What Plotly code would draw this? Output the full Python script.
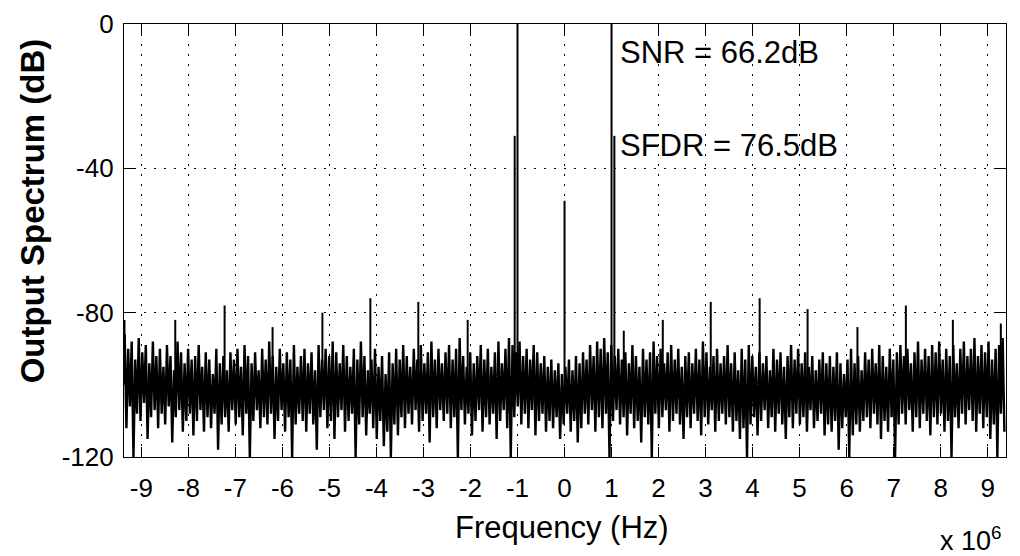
import numpy as np
import plotly.graph_objects as go

# ---------------- data (frequencies in MHz, levels in dB) ----------------
f_start = -9.3375      # centre of first noise bin
f_step = 0.075         # bin spacing

noise_hi = [
    -86, -90, -88, -93, -87, -91, -89, -94, -88, -92,
    -90, -95, -89, -92, -96, -88, -91, -94, -90, -93,
    -92, -89, -95, -91, -93, -97, -90, -94, -92, -96,
    -91, -93, -90, -95, -89, -92, -94, -91, -96, -90,
    -93, -88, -92, -95, -90, -94, -91, -93, -89, -95,
    -92, -90, -94, -91, -96, -89, -93, -90, -92, -88,
    -91, -94, -89, -92, -95, -90, -93, -88, -92, -96,
    -93, -90, -95, -92, -97, -91, -94, -90, -93, -89,
    -92, -95, -90, -93, -89, -94, -91, -88, -93, -90,
    -94, -91, -89, -93, -90, -87, -92, -95, -91, -94,
    -92, -89, -93, -90, -95, -91, -88, -94, -90, -87,
    -89, -91, -88, -92, -90, -93, -89, -91, -94, -92,
    -95, -93, -96, -94, -97, -95, -93, -96, -92, -94,
    -91, -93, -89, -92, -88, -90, -87, -91, -89, -92,
    -90, -93, -91, -94, -89, -92, -95, -90, -93, -91,
    -88, -92, -90, -94, -91, -89, -93, -90, -95, -92,
    -91, -94, -90, -93, -88, -91, -95, -92, -90, -94,
    -92, -89, -94, -91, -96, -90, -93, -89, -92, -95,
    -91, -94, -92, -96, -90, -93, -91, -95, -92, -89,
    -93, -90, -94, -91, -95, -92, -96, -93, -91, -94,
    -92, -95, -91, -94, -97, -93, -90, -94, -92, -96,
    -91, -93, -90, -94, -89, -92, -95, -90, -93, -91,
    -89, -92, -90, -94, -91, -88, -93, -90, -92, -89,
    -91, -88, -93, -90, -92, -89, -94, -90, -88, -92,
    -90, -87, -92, -89, -91, -88, -93, -90, -89, -87,
]

noise_lo = [
    -112, -106, -120, -108, -110, -105, -115, -109, -107, -112,
    -108, -111, -106, -116, -109, -107, -113, -110, -108, -114,
    -110, -107, -113, -109, -112, -108, -118, -111, -109, -113,
    -107, -111, -109, -114, -108, -120, -110, -107, -112, -109,
    -111, -108, -115, -110, -107, -113, -109, -120, -111, -108,
    -110, -113, -108, -111, -118, -109, -107, -112, -110, -115,
    -109, -107, -113, -110, -108, -120, -111, -109, -114, -108,
    -112, -115, -110, -117, -113, -120, -111, -114, -109, -112,
    -108, -111, -107, -113, -110, -108, -116, -109, -112, -107,
    -110, -108, -112, -109, -120, -107, -111, -108, -114, -110,
    -107, -113, -109, -111, -108, -115, -110, -107, -112, -120,
    -109, -106, -111, -108, -112, -107, -114, -110, -108, -113,
    -110, -112, -109, -115, -111, -108, -113, -110, -116, -112,
    -108, -111, -107, -113, -109, -112, -108, -120, -110, -107,
    -111, -109, -114, -108, -112, -110, -116, -109, -111, -120,
    -108, -112, -109, -107, -113, -110, -108, -111, -115, -109,
    -112, -108, -110, -114, -109, -111, -107, -113, -110, -108,
    -111, -109, -113, -110, -115, -112, -120, -111, -109, -114,
    -110, -107, -112, -109, -113, -108, -111, -115, -109, -112,
    -108, -111, -109, -113, -107, -112, -110, -108, -114, -111,
    -113, -110, -118, -112, -109, -120, -114, -111, -113, -110,
    -109, -112, -108, -111, -115, -110, -113, -109, -120, -111,
    -108, -111, -107, -113, -109, -112, -108, -110, -114, -109,
    -111, -108, -113, -110, -120, -109, -112, -108, -111, -107,
    -110, -113, -108, -112, -109, -115, -111, -120, -108, -113,
]

tone_freq = [-9.36, -8.28, -7.23, -6.21, -5.15, -4.13, -3.11, -2.06,
             -1.06, -1.0, 0.0, 1.0, 1.06, 1.26, 2.09, 3.11, 4.15,
             5.17, 6.23, 7.26, 8.26, 9.28]
tone_db = [-82, -82, -78, -84, -80, -76, -77, -82,
           -31, 0, -49, 0, -31, -85, -82, -77, -76,
           -79, -84, -78, -82, -83]
stem_base = -100

x_ticks = list(range(-9, 10))
y_ticks = [-120, -80, -40, 0]
x_title = "Frequency (Hz)"
y_title = "Output Spectrum (dB)"
x_exp = "x 10<sup>6</sup>"
snr_text = "SNR = 66.2dB"
sfdr_text = "SFDR = 76.5dB"
snr_pos = (1.13, -7.8)
sfdr_pos = (1.13, -33.8)

# ---------------- build traces ----------------
n = len(noise_hi)
fc = f_start + f_step * np.arange(n)
xs = np.empty(2 * n)
ys = np.empty(2 * n)
xs[0::2] = fc - f_step / 4
xs[1::2] = fc + f_step / 4
ys[0::2] = noise_hi
ys[1::2] = noise_lo

sx, sy = [], []
for f, d in zip(tone_freq, tone_db):
    sx += [f, f, None]
    sy += [stem_base, d, None]

FONT = "Liberation Sans, Arial, Helvetica, sans-serif"

fig = go.Figure()
fig.add_trace(go.Scatter(x=xs, y=ys, mode="lines",
                         line=dict(color="black", width=2.4), showlegend=False))
fig.add_trace(go.Scatter(x=sx, y=sy, mode="lines",
                         line=dict(color="black", width=2), showlegend=False))

axis_common = dict(
    showline=True, linecolor="black", linewidth=1.2, mirror="ticks",
    ticks="inside", ticklen=10, tickcolor="black", tickwidth=1.2,
    showgrid=True, gridcolor="black", gridwidth=1, griddash="2px,8px",
    zeroline=False, automargin=False,
    tickfont=dict(family=FONT, size=26, color="black"),
)

fig.update_xaxes(range=[-9.37, 9.39], tickvals=x_ticks,
                 ticktext=[str(v) for v in x_ticks],
                 ticklabelstandoff=8, **axis_common)
fig.update_yaxes(range=[-120, 0], tickvals=y_ticks,
                 ticktext=[str(v) for v in y_ticks],
                 ticklabelstandoff=4, **axis_common)

fig.add_annotation(x=snr_pos[0], y=snr_pos[1], xref="x", yref="y",
                   text=snr_text, showarrow=False, xanchor="left", yanchor="middle",
                   font=dict(family=FONT, size=31, color="black"))
fig.add_annotation(x=sfdr_pos[0], y=sfdr_pos[1], xref="x", yref="y",
                   text=sfdr_text, showarrow=False, xanchor="left", yanchor="middle",
                   font=dict(family=FONT, size=31, color="black"))
fig.add_annotation(x=-0.104, y=0.568, xref="paper", yref="paper",
                   text=y_title, textangle=-90, showarrow=False,
                   xanchor="center", yanchor="middle",
                   font=dict(family=FONT, size=33, color="black", weight="bold"))
fig.add_annotation(x=0.497, y=-0.162, xref="paper", yref="paper",
                   text=x_title, showarrow=False,
                   xanchor="center", yanchor="middle",
                   font=dict(family=FONT, size=31, color="black"))
fig.add_annotation(x=0.998, y=-0.19, xref="paper", yref="paper",
                   text=x_exp, showarrow=False,
                   xanchor="right", yanchor="middle",
                   font=dict(family=FONT, size=27, color="black"))

fig.update_layout(
    width=1020, height=556, autosize=False,
    margin=dict(l=124, r=14, t=24, b=99),
    paper_bgcolor="white", plot_bgcolor="white",
    font=dict(family=FONT, color="black"),
)

fig.write_html("out.html", config={"displayModeBar": False},
               post_script="document.body.style.margin='0';"
                           "document.body.style.overflow='hidden';")
